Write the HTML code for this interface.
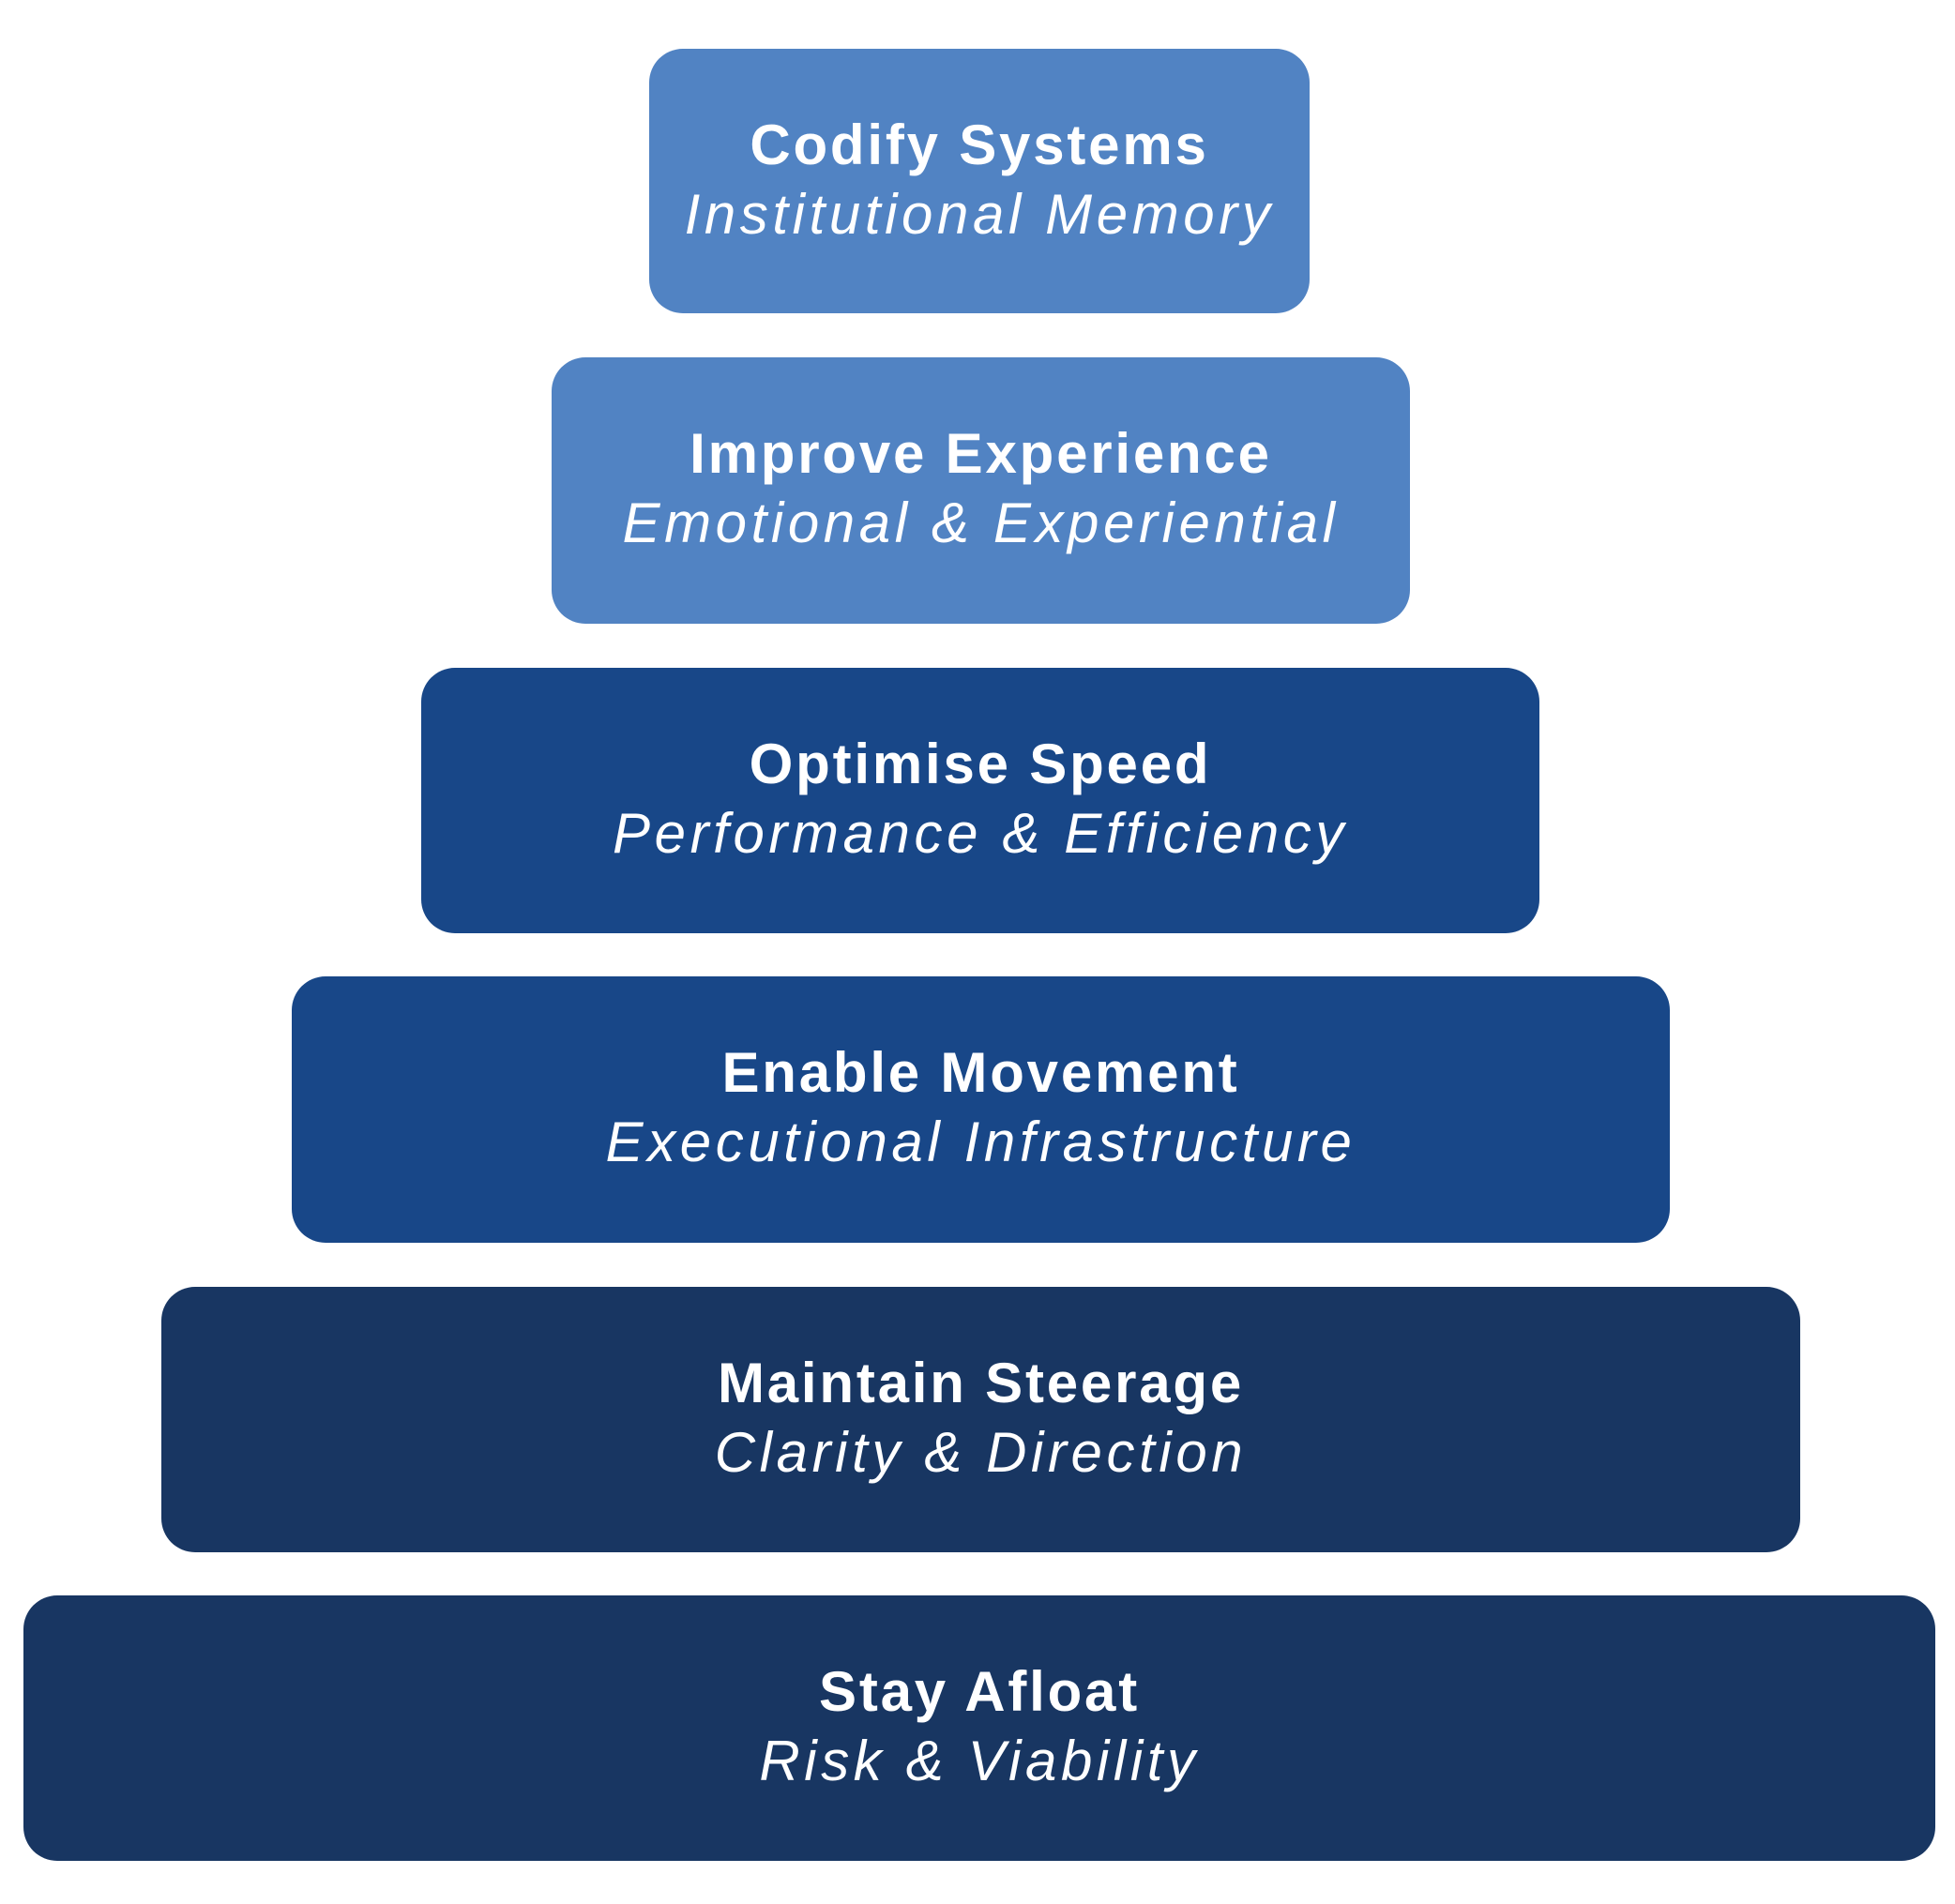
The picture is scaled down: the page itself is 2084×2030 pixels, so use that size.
<!DOCTYPE html>
<html><head><style>
html,body{margin:0;padding:0;background:#fff;}
body{width:2084px;height:2030px;position:relative;overflow:hidden;font-family:"Liberation Sans",sans-serif;}
.b{position:absolute;border-radius:36px;color:#fff;text-align:center;}
.t{position:absolute;left:0;right:0;top:68px;font-weight:bold;font-size:60px;line-height:70px;letter-spacing:2.8px;}
.s{position:absolute;left:0;right:0;top:142px;font-style:italic;font-size:60px;line-height:70px;letter-spacing:4.6px;}
.l{background:#5183c3}.m{background:#184788}.d{background:#183662}
</style></head><body>
<div class="b l" style="left:692px;top:52px;width:704px;height:282px"><div class="t">Codify Systems</div><div class="s">Institutional Memory</div></div>
<div class="b l" style="left:588px;top:381px;width:915px;height:284px"><div class="t">Improve Experience</div><div class="s">Emotional &amp; Experiential</div></div>
<div class="b m" style="left:449px;top:712px;width:1192px;height:283px"><div class="t">Optimise Speed</div><div class="s">Performance &amp; Efficiency</div></div>
<div class="b m" style="left:311px;top:1041px;width:1469px;height:284px"><div class="t">Enable Movement</div><div class="s">Executional Infrastructure</div></div>
<div class="b d" style="left:172px;top:1372px;width:1747px;height:283px"><div class="t">Maintain Steerage</div><div class="s">Clarity &amp; Direction</div></div>
<div class="b d" style="left:25px;top:1701px;width:2038px;height:283px"><div class="t">Stay Afloat</div><div class="s">Risk &amp; Viability</div></div>
</body></html>
